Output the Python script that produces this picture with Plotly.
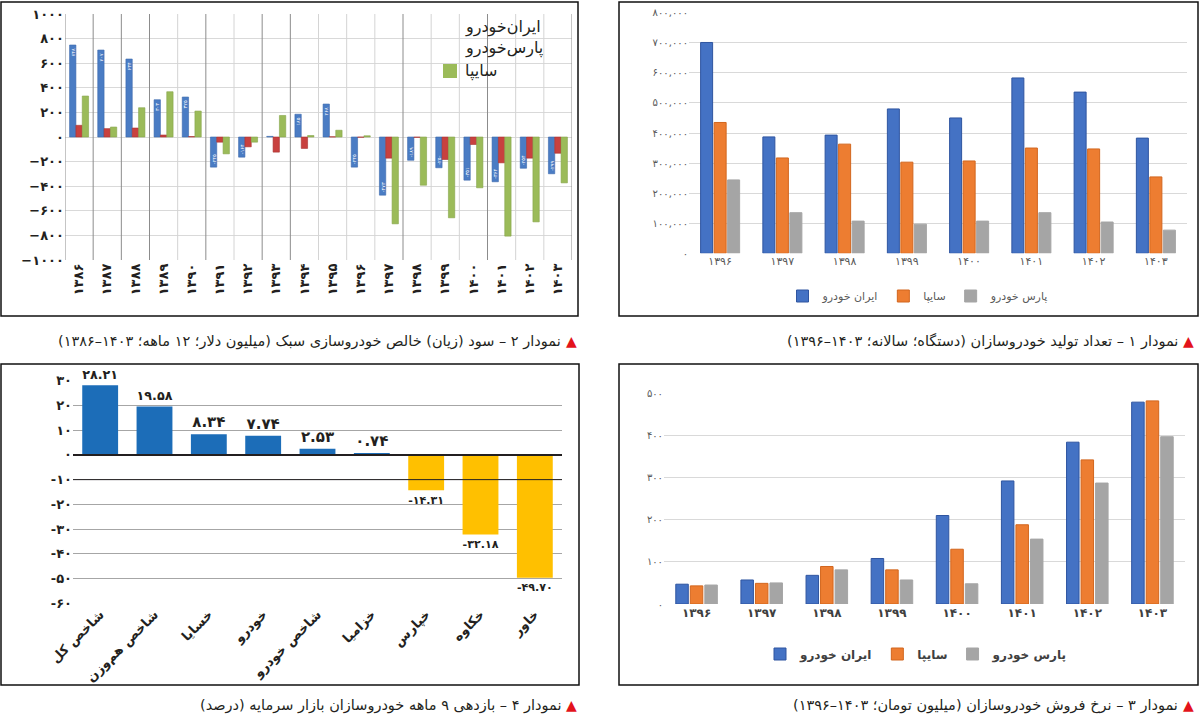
import plotly.graph_objects as go

W, H = 1200, 716
FA = str.maketrans("0123456789", "۰۱۲۳۴۵۶۷۸۹")


def fa(s):
    return str(s).translate(FA)


def px(x):
    return x / W


def py(y):
    return 1 - y / H


FONT = "DejaVu Sans"

# ---------------- Data ----------------
# Chart 2: net profit (loss), million USD, 1386-1403
profit_years = ["۱۳۸۶", "۱۳۸۷", "۱۳۸۸", "۱۳۸۹", "۱۳۹۰", "۱۳۹۱", "۱۳۹۲", "۱۳۹۳", "۱۳۹۴",
                "۱۳۹۵", "۱۳۹۶", "۱۳۹۷", "۱۳۹۸", "۱۳۹۹", "۱۴۰۰", "۱۴۰۱", "۱۴۰۲", "۱۴۰۳"]
profit_ikco = [748, 707, 634, 303, 325, -245, -164, 5, 185, 268, -245, -473, -189, -250, -351, -364, -254, -299]
profit_pars = [95, 68, 73, 16, 4, -42, -80, -123, -93, 2, -2, -172, -3, -183, -61, -210, -172, -132]
profit_saipa = [333, 81, 238, 368, 211, -137, -42, 175, 12, 55, 10, -706, -392, -657, -413, -806, -690, -373]
profit_names = ["ایران‌خودرو", "پارس‌خودرو", "سایپا"]

# Chart 1: production (units)
prod_years = ["۱۳۹۶", "۱۳۹۷", "۱۳۹۸", "۱۳۹۹", "۱۴۰۰", "۱۴۰۱", "۱۴۰۲", "۱۴۰۳"]
prod_ikco = [701000, 387000, 393000, 480000, 450000, 583000, 536000, 383000]
prod_saipa = [435000, 317000, 363000, 303000, 307000, 350000, 347000, 254000]
prod_pars = [244000, 135000, 107000, 97000, 107000, 135000, 104000, 77000]

# Chart 3: sale price (million toman)
price_years = ["۱۳۹۶", "۱۳۹۷", "۱۳۹۸", "۱۳۹۹", "۱۴۰۰", "۱۴۰۱", "۱۴۰۲", "۱۴۰۳"]
price_ikco = [47, 57, 68, 108, 210, 292, 384, 479]
price_saipa = [43, 49, 89, 81, 130, 188, 342, 482]
price_pars = [45, 50, 81, 57, 48, 154, 287, 397]

series_names = ["ایران خودرو", "سایپا", "پارس خودرو"]

# Chart 4: 9-month returns (%)
ret_names = ["شاخص کل", "شاخص هم‌وزن", "خسایا", "خودرو", "شاخص خودرو", "خزامیا", "خپارس", "خکاوه", "خاور"]
ret_values = [28.21, 19.58, 8.34, 7.74, 2.53, 0.74, -14.31, -32.18, -49.70]

captions = [
    "نمودار ۱ – تعداد تولید خودروسازان (دستگاه؛ سالانه؛ ۱۴۰۳–۱۳۹۶)",
    "نمودار ۲ – سود (زیان) خالص خودروسازی سبک (میلیون دلار؛ ۱۲ ماهه؛ ۱۴۰۳–۱۳۸۶)",
    "نمودار ۳ – نرخ فروش خودروسازان (میلیون تومان؛ ۱۴۰۳–۱۳۹۶)",
    "نمودار ۴ – بازدهی ۹ ماهه خودروسازان بازار سرمایه (درصد)",
]

fig = go.Figure()

# ---------------- Chart 2 (top-left) ----------------
tl_colors = ["#4A7CC4", "#C8413F", "#9BBB59"]
tl_lines = ["#3A68AC", "#A83331", "#86A449"]
tl_offsets = [-0.3375, -0.1125, 0.1125]
for i, vals in enumerate([profit_ikco, profit_pars, profit_saipa]):
    kw = {}
    if i == 0:
        kw = dict(text=[(("-" if v < 0 else "") + fa(abs(v))) if abs(v) >= 100 else "" for v in vals],
                  textposition="inside", insidetextanchor="end", textangle=-90,
                  constraintext="none",
                  textfont=dict(size=5, color="white", family=FONT))
    fig.add_trace(go.Bar(
        x=profit_years, y=vals, name=profit_names[i], xaxis="x", yaxis="y",
        marker=dict(color=tl_colors[i], line=dict(color=tl_lines[i], width=0.6)),
        width=0.225, offset=tl_offsets[i], showlegend=False, **kw))

# ---------------- Chart 1 (top-right) ----------------
c_fill = ["#4472C4", "#ED7D31", "#A5A5A5"]
c_line = ["#2F55A0", "#D2661E", "#A5A5A5"]
tr_offsets = [-0.3135, -0.0965, 0.1205]
for i, vals in enumerate([prod_ikco, prod_saipa, prod_pars]):
    fig.add_trace(go.Bar(
        x=prod_years, y=vals, name=series_names[i], xaxis="x2", yaxis="y2",
        marker=dict(color=c_fill[i], line=dict(color=c_line[i], width=1)),
        width=0.193, offset=tr_offsets[i], legend="legend"))

# ---------------- Chart 3 (bottom-right) ----------------
br_offsets = [-0.319, -0.096, 0.127]
for i, vals in enumerate([price_ikco, price_saipa, price_pars]):
    fig.add_trace(go.Bar(
        x=price_years, y=vals, name=series_names[i], xaxis="x3", yaxis="y3",
        marker=dict(color=c_fill[i], line=dict(color=c_line[i], width=1)),
        width=0.192, offset=br_offsets[i], legend="legend2"))

# ---------------- Chart 4 (bottom-left) ----------------
fig.add_trace(go.Bar(
    x=ret_names, y=ret_values, xaxis="x4", yaxis="y4", showlegend=False,
    marker=dict(color=["#1C6DB8" if v >= 0 else "#FFC000" for v in ret_values], line=dict(width=0)),
    width=0.66,
    text=[fa(f"{v:.2f}") for v in ret_values], textposition="outside",
    textfont=dict(size=15, color="#231F20", family=FONT, weight="bold"),
    cliponaxis=False))

# ---------------- Axes ----------------
tl_ticks = list(range(-1000, 1001, 200))
tr_ticks = list(range(0, 800001, 100000))
br_ticks = list(range(0, 501, 100))
bl_ticks = list(range(-60, 31, 10))

common = dict(zeroline=False, showline=False, ticks="", automargin=False, fixedrange=True)

fig.update_layout(
    template="none",
    width=W, height=H, autosize=False, margin=dict(l=0, r=0, t=0, b=0, pad=0),
    paper_bgcolor="white", plot_bgcolor="white",
    barmode="overlay", font=dict(family=FONT, color="#231F20"),
    xaxis=dict(domain=[px(65), px(572)], anchor="y", type="category", range=[-0.5, 17.5],
               tickangle=-90, showgrid=False, **common,
               tickfont=dict(size=13, family=FONT, color="#231F20", weight="bold")),
    yaxis=dict(domain=[py(260), py(14)], anchor="x", range=[-1000, 1000],
               tickvals=tl_ticks,
               ticktext=[("−" if v < 0 else "") + fa(abs(v)) for v in tl_ticks],
               gridcolor="#D9D9D9", showgrid=True, **common,
               tickfont=dict(size=13, family=FONT, color="#231F20", weight="bold")),
    xaxis2=dict(domain=[px(689), px(1187)], anchor="y2", type="category", range=[-0.5, 7.5],
                showgrid=False, **common,
                tickfont=dict(size=11, family=FONT, color="#595959")),
    yaxis2=dict(domain=[py(253.3), py(12.7)], anchor="x2", range=[0, 800000],
                tickvals=tr_ticks, ticktext=[fa(f"{v:,}") for v in tr_ticks],
                gridcolor="#D9D9D9", showgrid=True, **common,
                tickfont=dict(size=10, family=FONT, color="#595959")),
    xaxis3=dict(domain=[px(664), px(1185)], anchor="y3", type="category", range=[-0.5, 7.5],
                showgrid=False, **common,
                tickfont=dict(size=12, family=FONT, color="#404040", weight="bold")),
    yaxis3=dict(domain=[py(604), py(393.3)], anchor="x3", range=[0, 500],
                tickvals=br_ticks, ticktext=[fa(v) for v in br_ticks],
                gridcolor="#D9D9D9", showgrid=True, **common,
                tickfont=dict(size=10, family=FONT, color="#595959")),
    xaxis4=dict(domain=[px(73), px(562)], anchor="y4", type="category", range=[-0.5, 8.5],
                tickangle=-45, showgrid=False, **common,
                tickfont=dict(size=13, family=FONT, color="#231F20", weight="bold")),
    yaxis4=dict(domain=[py(603.3), py(380.7)], anchor="x4", range=[-60, 30],
                tickvals=bl_ticks, ticktext=[("-" if v < 0 else "") + fa(abs(v)) for v in bl_ticks],
                gridcolor="#A6A6A6", showgrid=True, **common,
                tickfont=dict(size=13, family=FONT, color="#231F20", weight="bold")),
    legend=dict(orientation="h", x=px(918), xanchor="center", y=py(296), yanchor="middle",
                font=dict(size=11, family=FONT, color="#595959"), bgcolor="rgba(0,0,0,0)",
                itemwidth=30, traceorder="normal"),
    legend2=dict(orientation="h", x=px(916), xanchor="center", y=py(654), yanchor="middle",
                 font=dict(size=12, family=FONT, color="#404040", weight="bold"),
                 bgcolor="rgba(0,0,0,0)", itemwidth=30, traceorder="normal"),
)

shapes = []
# panel borders
for (x0, y0, x1, y1) in [(1, 2, 578, 316), (619, 2, 1198, 316), (1, 364, 579, 685), (619, 364, 1198, 685)]:
    shapes.append(dict(type="rect", xref="paper", yref="paper", x0=px(x0), x1=px(x1),
                       y0=py(y1), y1=py(y0), line=dict(color="#111111", width=1.5)))
# top-left category separators
dark = {-0.5, 0.5, 1.5, 2.5, 4.5, 6.5, 7.5, 11.5, 14.5, 17.5}
for k in range(19):
    xv = k - 0.5
    shapes.append(dict(type="line", xref="x", yref="y domain", x0=xv, x1=xv, y0=0, y1=1,
                       line=dict(color="#8C8C8C" if xv in dark else "#D4D4D4", width=1)))
# bottom-left zero line and -10 line
shapes.append(dict(type="line", xref="x4 domain", yref="y4", x0=0, x1=1, y0=0, y1=0,
                   line=dict(color="#231F20", width=2)))
shapes.append(dict(type="line", xref="x4 domain", yref="y4", x0=0, x1=1, y0=-10, y1=-10,
                   line=dict(color="#231F20", width=1)))
# top-left legend swatch (only green visible in reference)
shapes.append(dict(type="rect", xref="paper", yref="paper", x0=px(443), x1=px(457),
                   y0=py(78), y1=py(64), fillcolor="#9BBB59", line=dict(width=0)))
fig.update_layout(shapes=shapes)

ann = []
for txt, yy in zip(profit_names, [27, 48, 71]):
    ann.append(dict(xref="paper", yref="paper", x=px(463), y=py(yy), xanchor="left", yanchor="middle",
                    text="\u200f" + txt + "\u200f", showarrow=False,
                    font=dict(size=16, family=FONT, color="#231F20")))

cap_pos = [(1180, 341), (563, 341), (1180, 705), (563, 705)]
for txt, (cx, cy) in zip(captions, cap_pos):
    ann.append(dict(xref="paper", yref="paper", x=px(cx), y=py(cy), xanchor="right", yanchor="middle",
                    text="\u200f" + txt + "\u200f", showarrow=False,
                    font=dict(size=14.5, family=FONT, color="#231F20")))
    ann.append(dict(xref="paper", yref="paper", x=px(cx + 1), y=py(cy), xanchor="left", yanchor="middle",
                    text="▲", showarrow=False, font=dict(size=14, family=FONT, color="#E3131B")))
fig.update_layout(annotations=ann)

fig.write_html("out.html", config={"displayModeBar": False, "staticPlot": False},
               post_script="document.body.style.margin='0';document.body.style.overflow='hidden';")
